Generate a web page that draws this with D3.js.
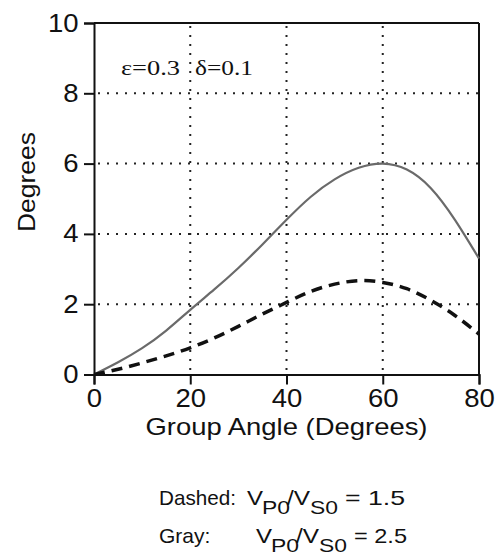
<!DOCTYPE html>
<html>
<head>
<meta charset="utf-8">
<script src="https://cdn.jsdelivr.net/npm/d3@7"></script>
<style>
  html, body { margin: 0; padding: 0; background: #fff; }
  svg { display: block; }
</style>
</head>
<body>
<svg id="chart" width="497" height="554"></svg>
<script>
// ---- data ----
const angles      = [0, 5, 10, 15, 20, 25, 30, 35, 40, 45, 50, 55, 60, 65, 70, 75, 80];
const grayValues  = [0, 0.35, 0.75, 1.25, 1.84, 2.42, 3.03, 3.7, 4.4, 5.05, 5.55, 5.88, 6.0, 5.83, 5.3, 4.4, 3.3];
const dashValues  = [0, 0.15, 0.33, 0.53, 0.76, 1.04, 1.37, 1.72, 2.05, 2.36, 2.57, 2.67, 2.62, 2.44, 2.11, 1.68, 1.15];
const xTicks = [0, 20, 40, 60, 80];
const yTicks = [0, 2, 4, 6, 8, 10];
const xGrid = [20, 40, 60];
const yGrid = [2, 4, 6, 8];
const legendRows = [
  { label: "Dashed:", ratio: "1.5" },
  { label: "Gray:",   ratio: "2.5" }
];

const svg = d3.select("#chart");
const mLeft = 94, mRight = 479, mTop = 23, mBottom = 374.5;

const x = d3.scaleLinear().domain([0, 80]).range([mLeft, mRight]);
const y = d3.scaleLinear().domain([0, 10]).range([mBottom, mTop]);

// grid (dotted)
svg.append("g").selectAll("line").data(xGrid).join("line")
  .attr("x1", d => x(d)).attr("x2", d => x(d))
  .attr("y1", mTop + 3).attr("y2", mBottom)
  .attr("stroke", "#222").attr("stroke-width", 2)
  .attr("stroke-dasharray", "2,7");
svg.append("g").selectAll("line").data(yGrid).join("line")
  .attr("x1", mLeft + 4).attr("x2", mRight)
  .attr("y1", d => y(d)).attr("y2", d => y(d))
  .attr("stroke", "#222").attr("stroke-width", 2)
  .attr("stroke-dasharray", "2,7");

// frame top / right
svg.append("line").attr("x1", mLeft).attr("x2", mRight).attr("y1", mTop).attr("y2", mTop)
  .attr("stroke", "#111").attr("stroke-width", 2);
svg.append("line").attr("x1", mRight).attr("x2", mRight).attr("y1", mTop).attr("y2", mBottom)
  .attr("stroke", "#111").attr("stroke-width", 2);

// axes
const font = "'Liberation Sans', Arial, Helvetica, sans-serif";
const yAxis = d3.axisLeft(y).tickValues(yTicks).tickSize(10).tickPadding(4).tickFormat(d3.format("d"));
const gy = svg.append("g").attr("transform", `translate(${mLeft},0)`).call(yAxis);
const xAxis = d3.axisBottom(x).tickValues(xTicks).tickSize(10).tickPadding(5).tickFormat(d3.format("d"));
const gx = svg.append("g").attr("transform", `translate(0,${mBottom})`).call(xAxis);
[gx, gy].forEach(g => {
  g.select(".domain").attr("stroke", "#111").attr("stroke-width", 2);
  g.selectAll(".tick line").attr("stroke", "#111").attr("stroke-width", 2);
  g.selectAll(".tick text").attr("fill", "#111")
    .style("font-family", font).style("font-size", "25px");
});
gy.selectAll(".tick text").attr("transform", "scale(1.1,1)");
gx.selectAll(".tick text").attr("transform", "scale(1.1,1)");

// curves
const line = d3.line().curve(d3.curveNatural);
const grayPts = angles.map((a, i) => [x(a), y(grayValues[i])]);
const dashPts = angles.map((a, i) => [x(a), y(dashValues[i])]);
svg.append("path").attr("d", line(grayPts))
  .attr("fill", "none").attr("stroke", "#6a6a6a").attr("stroke-width", 2.2);
svg.append("path").attr("d", line(dashPts))
  .attr("fill", "none").attr("stroke", "#111").attr("stroke-width", 3.5)
  .attr("stroke-dasharray", "11,7");

// axis titles
svg.append("text").attr("x", x(40)).attr("y", 435)
  .attr("text-anchor", "middle")
  .attr("textLength", 282).attr("lengthAdjust", "spacingAndGlyphs")
  .style("font-family", font).style("font-size", "24px").attr("fill", "#111")
  .text("Group Angle (Degrees)");
svg.append("text").attr("transform", "translate(35,182) rotate(-90)")
  .attr("text-anchor", "middle")
  .attr("textLength", 100).attr("lengthAdjust", "spacingAndGlyphs")
  .style("font-family", font).style("font-size", "24px").attr("fill", "#111")
  .text("Degrees");

// annotation
const serif = "'Liberation Serif', 'Times New Roman', serif";
svg.append("text").attr("x", 121).attr("y", 75)
  .attr("textLength", 59).attr("lengthAdjust", "spacingAndGlyphs")
  .style("font-family", serif).style("font-size", "20px").attr("fill", "#111")
  .text("ε=0.3");
svg.append("text").attr("x", 195).attr("y", 75)
  .attr("textLength", 58).attr("lengthAdjust", "spacingAndGlyphs")
  .style("font-family", serif).style("font-size", "20px").attr("fill", "#111")
  .text("δ=0.1");

// legend text (pieces placed as in the reference)
function piece(g, txt, px, py, size, len) {
  const t = g.append("text").attr("x", px).attr("y", py)
    .style("font-family", font).style("font-size", size + "px").attr("fill", "#111")
    .text(txt);
  if (len) t.attr("textLength", len).attr("lengthAdjust", "spacingAndGlyphs");
  return t;
}
const lg = svg.append("g");
const rowY = [505, 543];
const rowX0 = [247, 256];
legendRows.forEach((r, i) => {
  const yy = rowY[i], vx = rowX0[i];
  piece(lg, r.label, 159, yy, 21, i === 0 ? 77 : null);
  piece(lg, "V", vx, yy, 21, 16);
  piece(lg, "P0", vx + 15, yy + 8.5, 19, 28);
  piece(lg, "/V", vx + 40, yy, 21, 23);
  piece(lg, "S0", vx + 63, yy + 8.5, 19, 28);
  piece(lg, "= " + r.ratio, vx + 98, yy, 21, i === 0 ? 60 : 53);
});
</script>
</body>
</html>
